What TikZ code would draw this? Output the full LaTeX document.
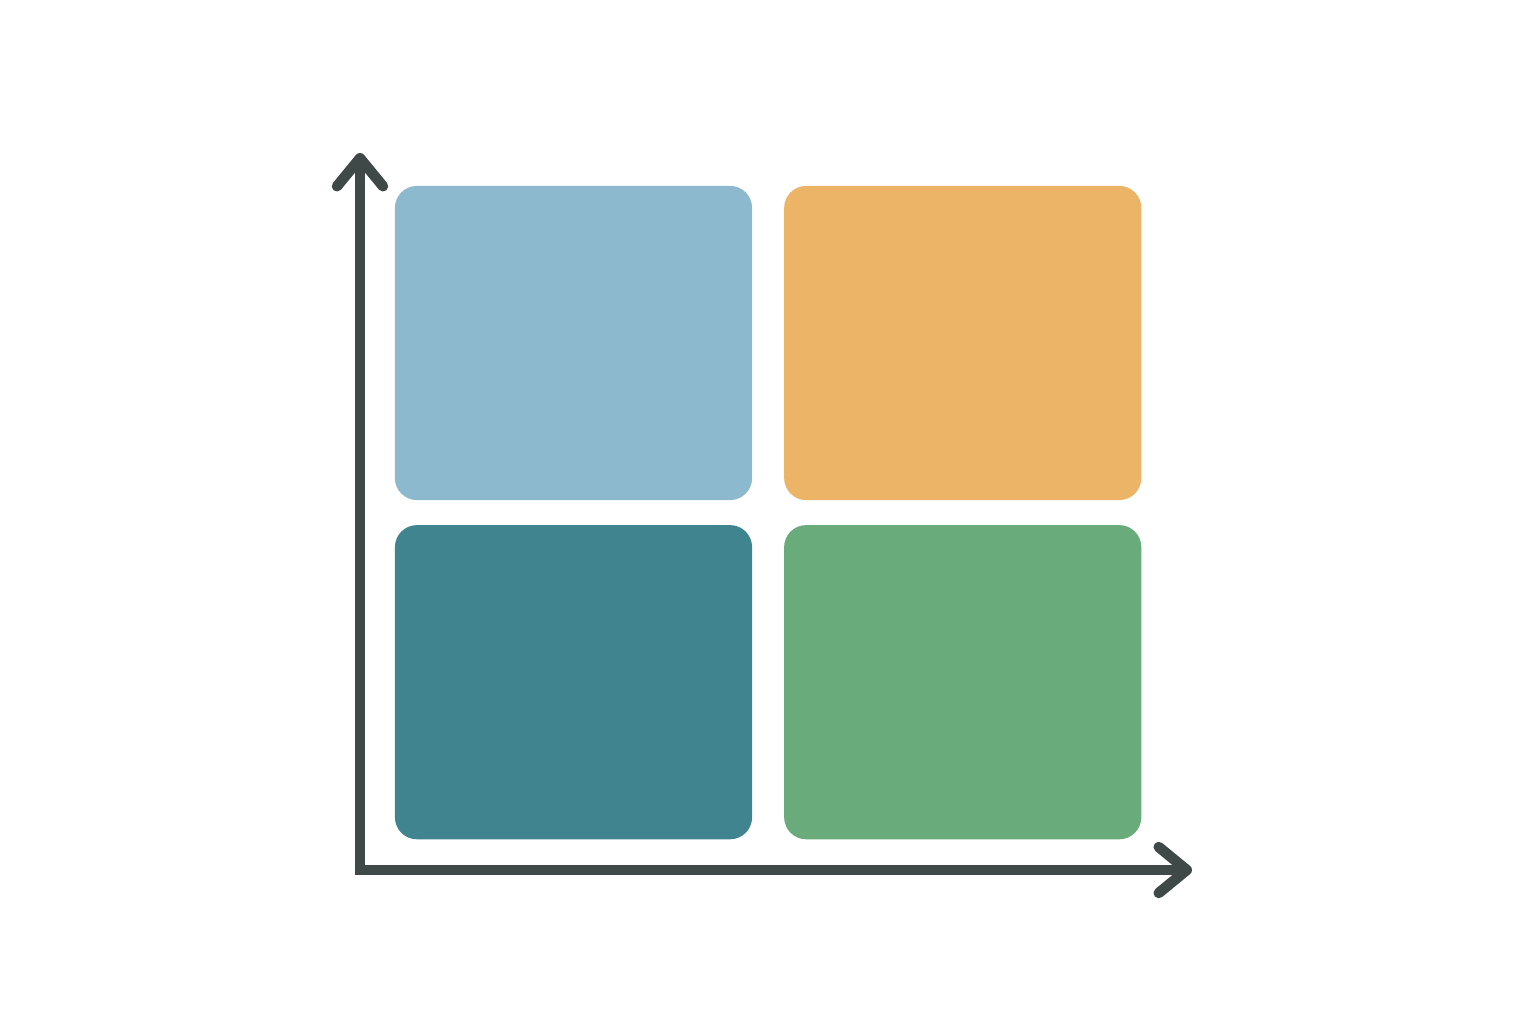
\documentclass[tikz,border=0pt]{standalone}
\usetikzlibrary{arrows.meta,positioning}
\definecolor{axisgrey}{HTML}{3F4A48}
\definecolor{qblue}{HTML}{8DB9CE}
\definecolor{qorange}{HTML}{EBB467}
\definecolor{qteal}{HTML}{40848F}
\definecolor{qgreen}{HTML}{69AB7A}
\tikzset{
  quad/.style={rounded corners=0.22cm, minimum width=3.57cm, minimum height=3.14cm, inner sep=0pt, outer sep=0pt},
  axis/.style={draw=axisgrey, line width=0.105cm, line join=miter,
    arrows={Straight Barb[length=0.28cm, width=0.46cm, round]-Straight Barb[length=0.28cm, width=0.46cm, round]}}
}
\begin{document}
\begin{tikzpicture}[x=0.01cm, y=-0.01cm]
    \useasboundingbox (0,0) rectangle (1536,1024);
    \node[quad, fill=qblue] (TL) at (573.5,343) {};
    \node[quad, fill=qorange, right=0.32cm of TL] (TR) {};
    \node[quad, fill=qteal, below=0.25cm of TL] (BL) {};
    \node[quad, fill=qgreen, right=0.32cm of BL] (BR) {};
    \coordinate (O) at (360,870);
    \coordinate (Y) at (360,153);
    \coordinate (X) at (1192,870);
    \draw[axis] (Y) -- (O) -- (X);
\end{tikzpicture}
\end{document}
